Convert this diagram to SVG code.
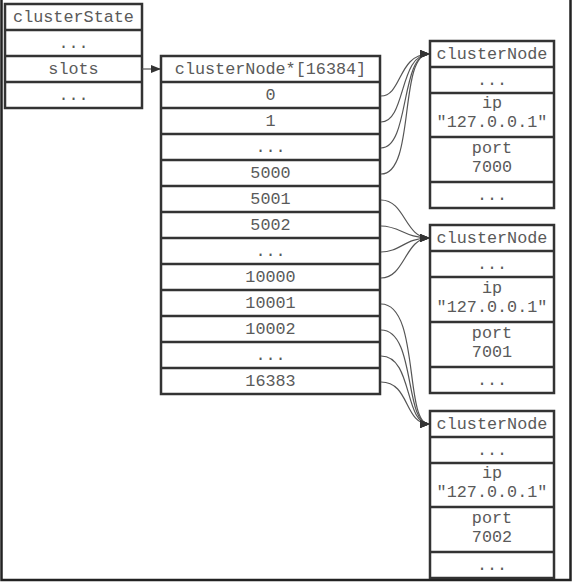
<svg xmlns="http://www.w3.org/2000/svg" width="573" height="582" viewBox="0 0 573 582">
<defs>
<style>
.box{fill:#fff;stroke:#333;stroke-width:2.5}
.sep{stroke:#333;stroke-width:2.5}
.t{font-family:"Liberation Mono","Courier New",monospace;font-size:16.8px;fill:#5a5a5a;text-anchor:middle}
.c{fill:none;stroke:#555;stroke-width:1.2}
</style>
<marker id="ah" markerWidth="10" markerHeight="8" refX="9" refY="4" orient="auto" markerUnits="userSpaceOnUse">
<path d="M0,0 L10,4 L0,8 Z" fill="#333"/>
</marker>
</defs>
<rect width="573" height="582" fill="#fff"/>
<path d="M1.5,0 V580 H570.5 V0" fill="none" stroke="#222" stroke-width="2.5"/>

<g id="clusterState">
<rect class="box" x="5" y="4" width="137" height="104"/>
<line class="sep" x1="5" y1="30" x2="142" y2="30"/>
<line class="sep" x1="5" y1="56" x2="142" y2="56"/>
<line class="sep" x1="5" y1="82" x2="142" y2="82"/>
<text class="t" x="73.5" y="22">clusterState</text>
<text class="t" x="73.5" y="48">...</text>
<text class="t" x="73.5" y="74">slots</text>
<text class="t" x="73.5" y="100">...</text>
</g>

<g id="slotsArray">
<rect class="box" x="161" y="56" width="219" height="338"/>
<line class="sep" x1="161" y1="82" x2="380" y2="82"/>
<line class="sep" x1="161" y1="108" x2="380" y2="108"/>
<line class="sep" x1="161" y1="134" x2="380" y2="134"/>
<line class="sep" x1="161" y1="160" x2="380" y2="160"/>
<line class="sep" x1="161" y1="186" x2="380" y2="186"/>
<line class="sep" x1="161" y1="212" x2="380" y2="212"/>
<line class="sep" x1="161" y1="238" x2="380" y2="238"/>
<line class="sep" x1="161" y1="264" x2="380" y2="264"/>
<line class="sep" x1="161" y1="290" x2="380" y2="290"/>
<line class="sep" x1="161" y1="316" x2="380" y2="316"/>
<line class="sep" x1="161" y1="342" x2="380" y2="342"/>
<line class="sep" x1="161" y1="368" x2="380" y2="368"/>
<text class="t" x="270.5" y="74">clusterNode*[16384]</text>
<text class="t" x="270.5" y="100">0</text>
<text class="t" x="270.5" y="126">1</text>
<text class="t" x="270.5" y="152">...</text>
<text class="t" x="270.5" y="178">5000</text>
<text class="t" x="270.5" y="204">5001</text>
<text class="t" x="270.5" y="230">5002</text>
<text class="t" x="270.5" y="256">...</text>
<text class="t" x="270.5" y="282">10000</text>
<text class="t" x="270.5" y="308">10001</text>
<text class="t" x="270.5" y="334">10002</text>
<text class="t" x="270.5" y="360">...</text>
<text class="t" x="270.5" y="386">16383</text>
</g>

<g id="node7000">
<rect class="box" x="430" y="41" width="124" height="167"/>
<line class="sep" x1="430" y1="67" x2="554" y2="67"/>
<line class="sep" x1="430" y1="93" x2="554" y2="93"/>
<line class="sep" x1="430" y1="137" x2="554" y2="137"/>
<line class="sep" x1="430" y1="182" x2="554" y2="182"/>
<text class="t" x="492" y="59">clusterNode</text>
<text class="t" x="492" y="85">...</text>
<text class="t" x="492" y="108">ip</text>
<text class="t" x="492" y="127">"127.0.0.1"</text>
<text class="t" x="492" y="153">port</text>
<text class="t" x="492" y="172">7000</text>
<text class="t" x="492" y="200">...</text>
</g>

<g id="node7001">
<rect class="box" x="430" y="225" width="124" height="168"/>
<line class="sep" x1="430" y1="251" x2="554" y2="251"/>
<line class="sep" x1="430" y1="277" x2="554" y2="277"/>
<line class="sep" x1="430" y1="322" x2="554" y2="322"/>
<line class="sep" x1="430" y1="367" x2="554" y2="367"/>
<text class="t" x="492" y="243">clusterNode</text>
<text class="t" x="492" y="269">...</text>
<text class="t" x="492" y="293">ip</text>
<text class="t" x="492" y="312">"127.0.0.1"</text>
<text class="t" x="492" y="338">port</text>
<text class="t" x="492" y="357">7001</text>
<text class="t" x="492" y="385">...</text>
</g>

<g id="node7002">
<rect class="box" x="430" y="411" width="124" height="167"/>
<line class="sep" x1="430" y1="437" x2="554" y2="437"/>
<line class="sep" x1="430" y1="463" x2="554" y2="463"/>
<line class="sep" x1="430" y1="507" x2="554" y2="507"/>
<line class="sep" x1="430" y1="552" x2="554" y2="552"/>
<text class="t" x="492" y="429">clusterNode</text>
<text class="t" x="492" y="455">...</text>
<text class="t" x="492" y="478">ip</text>
<text class="t" x="492" y="497">"127.0.0.1"</text>
<text class="t" x="492" y="523">port</text>
<text class="t" x="492" y="542">7002</text>
<text class="t" x="492" y="570">...</text>
</g>

<g id="connectors">
<path class="c" d="M142,69 L160,69" marker-end="url(#ah)"/>
<path class="c" d="M381,96 C402,96 398,54 429,54" marker-end="url(#ah)"/>
<path class="c" d="M381,122 C406,122 399,54 429,54" marker-end="url(#ah)"/>
<path class="c" d="M381,148 C410,148 400,54 429,54" marker-end="url(#ah)"/>
<path class="c" d="M381,174 C416,174 398,54 429,54" marker-end="url(#ah)"/>
<path class="c" d="M381,200 C405,200 405,238 429,238" marker-end="url(#ah)"/>
<path class="c" d="M381,226 C400,226 405,238 429,238" marker-end="url(#ah)"/>
<path class="c" d="M381,252 C400,252 405,238 429,238" marker-end="url(#ah)"/>
<path class="c" d="M381,278 C405,278 405,238 429,238" marker-end="url(#ah)"/>
<path class="c" d="M381,304 C420,304 404,424 429,424" marker-end="url(#ah)"/>
<path class="c" d="M381,330 C416,330 404,424 429,424" marker-end="url(#ah)"/>
<path class="c" d="M381,356 C413,356 404,424 429,424" marker-end="url(#ah)"/>
<path class="c" d="M381,382 C410,382 404,424 429,424" marker-end="url(#ah)"/>
</g>
</svg>
